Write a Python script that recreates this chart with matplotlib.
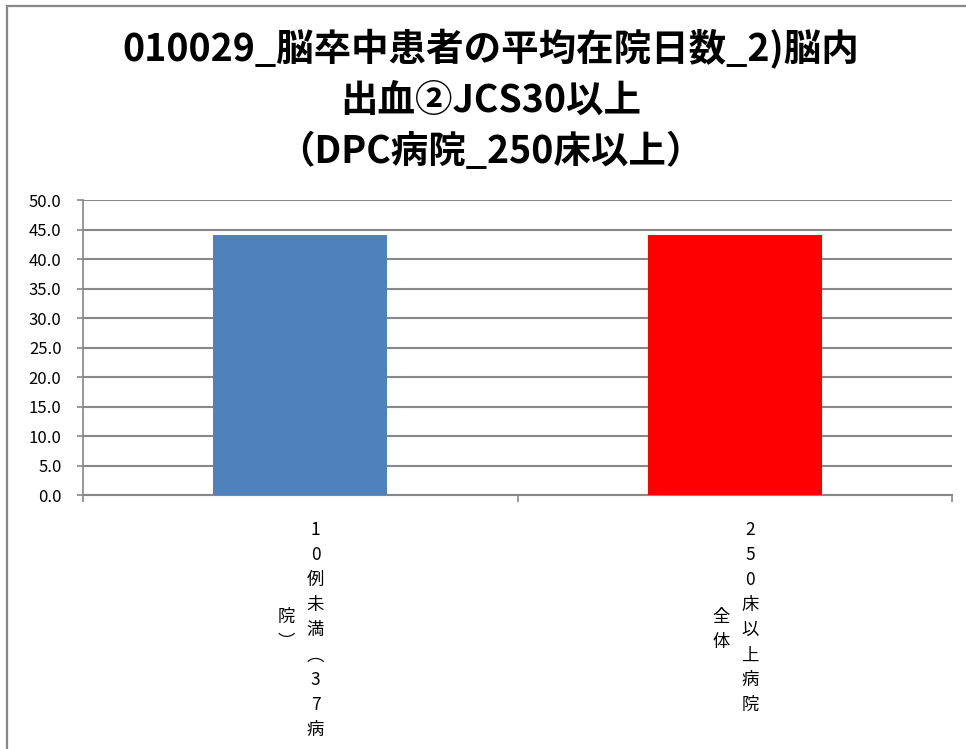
import matplotlib.pyplot as plt
from matplotlib.patches import Rectangle

plt.rcParams['font.family'] = ['Noto Sans CJK JP', 'DejaVu Sans']

# data
title = "010029_脳卒中患者の平均在院日数_2)脳内\n出血②JCS30以上\n（DPC病院_250床以上）"
categories = ["10例未満（37病院）", "250床以上病院全体"]
wrap_at = [9, 8]  # characters in the first vertical column
values = [44.1, 44.1]
colors = ["#4F81BD", "#FF0000"]
yticks = [0, 5, 10, 15, 20, 25, 30, 35, 40, 45, 50]

grey = "#888888"

fig = plt.figure(figsize=(9.66, 7.49), dpi=100)

# chart area border (cropped on right and bottom)
fig.patches.append(Rectangle((7 / 966, -0.1), 1.2, 1 - 6 / 749 + 0.1,
                             transform=fig.transFigure, fill=False,
                             edgecolor=grey, linewidth=1.6))

fig.text(0.508, 1 - 100 / 749, title, ha="center", va="center",
         fontsize=27, fontweight="bold", linespacing=1.38)

ax = fig.add_axes([83 / 966, 1 - 495 / 749, (952 - 83) / 966, 295 / 749])

x = list(range(len(categories)))
ax.bar(x, values, width=0.4, color=colors, zorder=3)

ax.set_xlim(-0.5, len(categories) - 0.5)
ax.set_ylim(0, 50)
ax.set_yticks(yticks)
ax.set_yticklabels([f"{v:.1f}" for v in yticks], fontsize=12)
ax.yaxis.grid(True, color=grey, linewidth=1.5, zorder=0)
ax.set_axisbelow(True)

for side in ["top", "right"]:
    ax.spines[side].set_visible(False)
ax.spines["left"].set_color(grey)
ax.spines["bottom"].set_color(grey)
ax.spines["left"].set_linewidth(1.2)
ax.spines["bottom"].set_linewidth(1.5)

ax.tick_params(axis="y", length=4.5, color=grey, width=1.2, pad=11)
ax.set_xticks([i - 0.5 for i in range(len(categories) + 1)])
ax.set_xticklabels([])
ax.tick_params(axis="x", length=5, color=grey, width=1.2)

# vertical category labels, written in columns right to left
vert = str.maketrans({"（": "\ufe35", "）": "\ufe36"})
for i, (label, n) in enumerate(zip(categories, wrap_at)):
    cols = [label[:n], label[n:]]
    first = "\n".join(cols[0].translate(vert))
    second = "\n".join(cols[1].translate(vert))
    ax.annotate(first, xy=(i, 0), xycoords=("data", "axes fraction"),
                xytext=(11, -19), textcoords="offset points",
                ha="center", va="top", fontsize=12.5, linespacing=1.5)
    ax.annotate(second, xy=(i, 0), xycoords=("data", "axes fraction"),
                xytext=(-10, -97), textcoords="offset points",
                ha="center", va="center", fontsize=12.5, linespacing=1.5)

fig.savefig("out.png", dpi=100)
